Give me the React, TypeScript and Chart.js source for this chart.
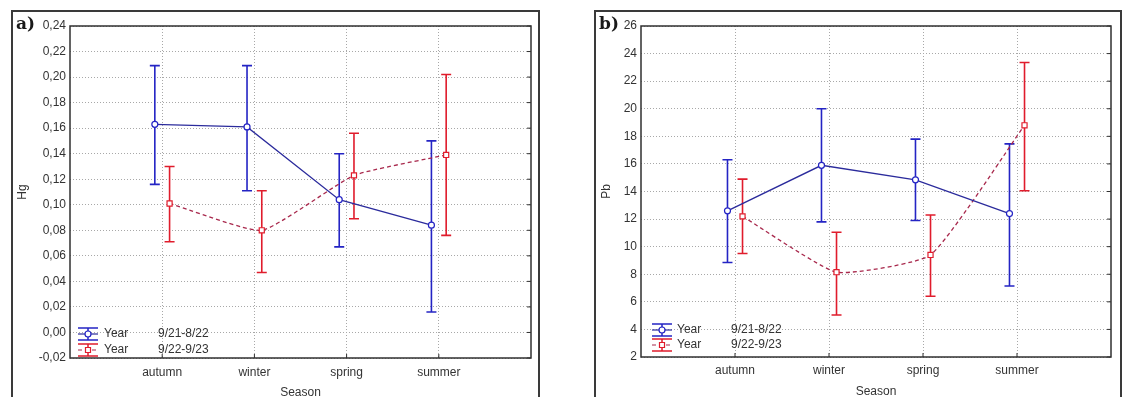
import React, { useEffect, useRef } from 'react';
import { Chart, registerables } from 'chart.js';

Chart.register(...registerables);

// ---------- data ----------
const seasons = ['autumn', 'winter', 'spring', 'summer'];
const seasonPositions = [1, 2, 3, 4];
const legendWord = 'Year';
const periods = ['9/21-8/22', '9/22-9/23'];
const xAxisTitle = 'Season';

const hgTicks = [-0.02, 0, 0.02, 0.04, 0.06, 0.08, 0.1, 0.12, 0.14, 0.16, 0.18, 0.2, 0.22, 0.24];
const pbTicks = [2, 4, 6, 8, 10, 12, 14, 16, 18, 20, 22, 24, 26];

const hgYear1Mean = [0.163, 0.161, 0.104, 0.084];
const hgYear1Low = [0.116, 0.111, 0.067, 0.016];
const hgYear1High = [0.209, 0.209, 0.14, 0.15];
const hgYear2Mean = [0.101, 0.08, 0.123, 0.139];
const hgYear2Low = [0.071, 0.047, 0.089, 0.076];
const hgYear2High = [0.13, 0.111, 0.156, 0.202];

const pbYear1Mean = [12.6, 15.9, 14.85, 12.4];
const pbYear1Low = [8.85, 11.8, 11.9, 7.15];
const pbYear1High = [16.3, 20.0, 17.8, 17.45];
const pbYear2Mean = [12.2, 8.15, 9.4, 18.8];
const pbYear2Low = [9.5, 5.05, 6.4, 14.05];
const pbYear2High = [14.9, 11.05, 12.3, 23.35];

// ---------- styles ----------
const FONT_FAMILY = '"Liberation Sans", Arial, sans-serif';
const TEXT = '#333333';
const BLUE_LINE = '#2b2b9c';
const BLUE_ERR = '#2424c4';
const RED_LINE = '#a8284c';
const RED_ERR = '#e01c2c';
const GRID = '#a8a8a8';
const OFFSET = 0.08;

const errorBarPlugin = {
  id: 'errorBars',
  beforeDatasetsDraw(chart: any) {
    const { ctx } = chart;
    const xs = chart.scales.x;
    const ys = chart.scales.y;
    chart.data.datasets.forEach((ds: any) => {
      ctx.save();
      ctx.strokeStyle = ds.errColor;
      ctx.lineWidth = 1.6;
      ds.data.forEach((pt: any, j: number) => {
        const px = xs.getPixelForValue(pt.x);
        const yl = ys.getPixelForValue(ds.errLow[j]);
        const yh = ys.getPixelForValue(ds.errHigh[j]);
        ctx.beginPath();
        ctx.moveTo(px, yl);
        ctx.lineTo(px, yh);
        ctx.moveTo(px - 5, yl);
        ctx.lineTo(px + 5, yl);
        ctx.moveTo(px - 5, yh);
        ctx.lineTo(px + 5, yh);
        ctx.stroke();
      });
      ctx.restore();
    });
  },
};

const framePlugin = {
  id: 'frame',
  afterDraw(chart: any) {
    const { ctx, chartArea: a } = chart;
    ctx.save();
    ctx.strokeStyle = '#303030';
    ctx.lineWidth = 1.5;
    ctx.strokeRect(a.left, a.top, a.right - a.left, a.bottom - a.top);
    ctx.lineWidth = 1;
    ctx.beginPath();
    chart.scales.y.ticks.forEach((t: any) => {
      const py = chart.scales.y.getPixelForValue(t.value);
      ctx.moveTo(a.right, py);
      ctx.lineTo(a.right - 4, py);
    });
    chart.scales.x.ticks.forEach((t: any) => {
      const px = chart.scales.x.getPixelForValue(t.value);
      ctx.moveTo(px, a.bottom);
      ctx.lineTo(px, a.bottom - 4);
    });
    ctx.stroke();
    ctx.restore();
  },
};

const legendPlugin = {
  id: 'panelLegend',
  afterDraw(chart: any, _args: any, opts: any) {
    const { ctx, chartArea: a } = chart;
    const rows = [opts.row1, opts.row2];
    chart.data.datasets.forEach((ds: any, i: number) => {
      const cy = a.bottom + rows[i];
      const x0 = a.left + opts.symX;
      const x1 = x0 + 20;
      const cx = (x0 + x1) / 2;
      ctx.save();
      ctx.strokeStyle = ds.errColor;
      ctx.lineWidth = 1.5;
      ctx.beginPath();
      ctx.moveTo(x0, cy - 6);
      ctx.lineTo(x1, cy - 6);
      ctx.moveTo(x0, cy + 6);
      ctx.lineTo(x1, cy + 6);
      ctx.moveTo(cx, cy - 6);
      ctx.lineTo(cx, cy + 6);
      ctx.stroke();
      ctx.strokeStyle = ds.borderColor;
      ctx.lineWidth = 1.2;
      ctx.setLineDash(ds.borderDash || []);
      ctx.beginPath();
      ctx.moveTo(x0, cy);
      ctx.lineTo(x1, cy);
      ctx.stroke();
      ctx.setLineDash([]);
      ctx.fillStyle = '#ffffff';
      ctx.strokeStyle = ds.pointBorderColor;
      ctx.beginPath();
      if (ds.pointStyle === 'rect') {
        ctx.rect(cx - 2.5, cy - 2.5, 5, 5);
      } else {
        ctx.arc(cx, cy, 3, 0, Math.PI * 2);
      }
      ctx.fill();
      ctx.stroke();
      ctx.fillStyle = TEXT;
      ctx.font = `12px ${FONT_FAMILY}`;
      ctx.textBaseline = 'middle';
      ctx.textAlign = 'left';
      ctx.fillText(legendWord, a.left + opts.wordX, cy);
      ctx.fillText(periods[i], a.left + opts.periodX, cy);
      ctx.restore();
    });
  },
};

type PanelParams = {
  m1: number[]; l1: number[]; h1: number[];
  m2: number[]; l2: number[]; h2: number[];
  ticks: number[]; fmt: (v: number) => string; yTitle: string;
  yWidth: number; yTitlePad: number; rightPad: number; xHeight: number;
  xTickPad: number; xTitlePad: number;
  legend: { symX: number; wordX: number; periodX: number; row1: number; row2: number };
};

function buildConfig(p: PanelParams): any {
  const font = { family: FONT_FAMILY, size: 12 };
  return {
    type: 'line',
    data: {
      datasets: [
        {
          label: `${legendWord} ${periods[0]}`,
          data: seasonPositions.map((x, i) => ({ x: x - OFFSET, y: p.m1[i] })),
          errLow: p.l1,
          errHigh: p.h1,
          errColor: BLUE_ERR,
          borderColor: BLUE_LINE,
          borderWidth: 1.3,
          tension: 0,
          pointStyle: 'circle',
          pointRadius: 3,
          pointBackgroundColor: '#ffffff',
          pointBorderColor: BLUE_ERR,
          pointBorderWidth: 1.2,
        },
        {
          label: `${legendWord} ${periods[1]}`,
          data: seasonPositions.map((x, i) => ({ x: x + OFFSET, y: p.m2[i] })),
          errLow: p.l2,
          errHigh: p.h2,
          errColor: RED_ERR,
          borderColor: RED_LINE,
          borderWidth: 1.3,
          borderDash: [4, 3],
          tension: 0.15,
          pointStyle: 'rect',
          pointRadius: 3.6,
          pointBackgroundColor: '#ffffff',
          pointBorderColor: RED_ERR,
          pointBorderWidth: 1.2,
        },
      ],
    },
    options: {
      animation: false,
      responsive: false,
      maintainAspectRatio: false,
      layout: { padding: { left: 0, top: 16, right: p.rightPad, bottom: 0 } },
      plugins: {
        legend: { display: false },
        tooltip: { enabled: false },
        panelLegend: p.legend,
      },
      scales: {
        x: {
          type: 'linear',
          min: 0,
          max: 5,
          afterBuildTicks: (s: any) => {
            s.ticks = seasonPositions.map((v) => ({ value: v }));
          },
          afterFit: (s: any) => {
            s.height = p.xHeight;
          },
          ticks: {
            callback: (v: number) => {
              const idx = seasonPositions.indexOf(v);
              return idx >= 0 ? seasons[idx] : '';
            },
            padding: p.xTickPad,
            font,
            color: TEXT,
            autoSkip: false,
            maxRotation: 0,
          },
          grid: { color: GRID, lineWidth: 1, drawTicks: false },
          border: { display: false, dash: [1, 2] },
          title: {
            display: true,
            text: xAxisTitle,
            font,
            color: TEXT,
            padding: { top: 0, bottom: p.xTitlePad },
          },
        },
        y: {
          type: 'linear',
          min: p.ticks[0],
          max: p.ticks[p.ticks.length - 1],
          afterBuildTicks: (s: any) => {
            s.ticks = p.ticks.map((v) => ({ value: v }));
          },
          afterFit: (s: any) => {
            s.width = p.yWidth;
          },
          ticks: {
            callback: (v: number) => p.fmt(v),
            padding: 4,
            font,
            color: TEXT,
            autoSkip: false,
          },
          grid: { color: GRID, lineWidth: 1, drawTicks: false },
          border: { display: false, dash: [1, 2] },
          title: {
            display: true,
            text: p.yTitle,
            font,
            color: TEXT,
            padding: { top: p.yTitlePad, bottom: 0 },
          },
        },
      },
    },
    plugins: [errorBarPlugin, framePlugin, legendPlugin],
  };
}

function Panel(props: { params: PanelParams; left: number; width: number; label: string }) {
  const ref = useRef<HTMLCanvasElement | null>(null);
  useEffect(() => {
    if (!ref.current) return;
    const chart = new Chart(ref.current, buildConfig(props.params));
    return () => chart.destroy();
  }, []);
  return (
    <>
      <div
        style={{
          position: 'absolute',
          left: props.left,
          top: 10,
          width: props.width,
          height: 400,
          border: '2px solid #3a3a3a',
          boxSizing: 'border-box',
        }}
      />
      <canvas
        ref={ref}
        width={props.width}
        height={392}
        style={{ position: 'absolute', left: props.left, top: 10, width: props.width, height: 392 }}
      />
      <div
        style={{
          position: 'absolute',
          left: props.left + 5,
          top: 15,
          fontFamily: '"DejaVu Serif", serif',
          fontWeight: 'bold',
          fontSize: 17,
          lineHeight: '17px',
          color: '#1a1a1a',
        }}
      >
        {props.label}
      </div>
    </>
  );
}

const hgParams: PanelParams = {
  m1: hgYear1Mean, l1: hgYear1Low, h1: hgYear1High,
  m2: hgYear2Mean, l2: hgYear2Low, h2: hgYear2High,
  ticks: hgTicks,
  fmt: (v) => v.toFixed(2).replace('.', ','),
  yTitle: 'Hg',
  yWidth: 59,
  yTitlePad: 4,
  rightPad: 9,
  xHeight: 44,
  xTickPad: 7,
  xTitlePad: 2,
  legend: { symX: 8, wordX: 34, periodX: 88, row1: -24, row2: -8 },
};

const pbParams: PanelParams = {
  m1: pbYear1Mean, l1: pbYear1Low, h1: pbYear1High,
  m2: pbYear2Mean, l2: pbYear2Low, h2: pbYear2High,
  ticks: pbTicks,
  fmt: (v) => String(v),
  yTitle: 'Pb',
  yWidth: 47,
  yTitlePad: 5.5,
  rightPad: 11,
  xHeight: 45,
  xTickPad: 6,
  xTitlePad: 3,
  legend: { symX: 11, wordX: 36, periodX: 90, row1: -27, row2: -12 },
};

export default function App() {
  return (
    <div
      style={{
        position: 'fixed',
        left: 0,
        top: 0,
        width: 1128,
        height: 397,
        overflow: 'hidden',
        background: '#ffffff',
      }}
    >
      <Panel params={hgParams} left={11} width={529} label="a)" />
      <Panel params={pbParams} left={594} width={528} label="b)" />
    </div>
  );
}
